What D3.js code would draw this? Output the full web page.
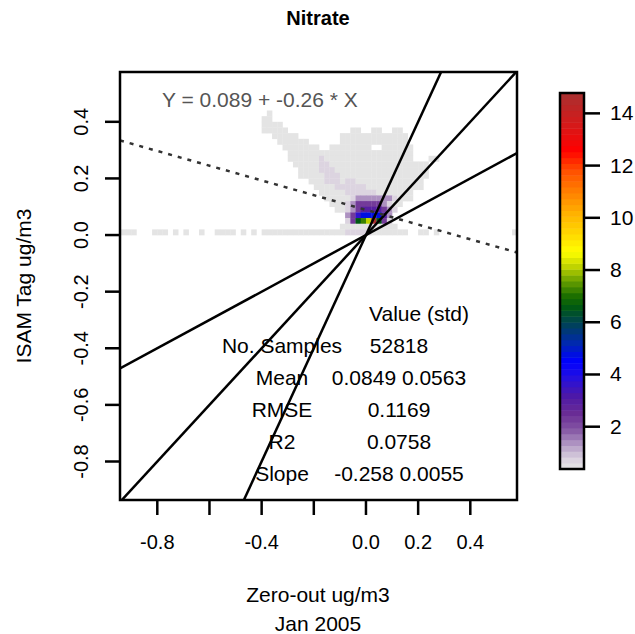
<!DOCTYPE html>
<html>
<head>
<meta charset="utf-8">
<script src="https://cdn.jsdelivr.net/npm/d3@7"></script>
<style>
  body { margin: 0; background: #fff; }
  text { font-family: "Liberation Sans", Arial, sans-serif; }
</style>
</head>
<body>
<script>
// - Density scatter: Nitrate -

// Data

const title = "Nitrate";
const xTicks = [-0.8, -0.6, -0.4, -0.2, 0.0, 0.2, 0.4];
const xTickLabels = ["-0.8", "", "-0.4", "", "0.0", "0.2", "0.4"];
const yTicks = [-0.8, -0.6, -0.4, -0.2, 0.0, 0.2, 0.4];
const yTickLabels = ["-0.8", "-0.6", "-0.4", "-0.2", "0.0", "0.2", "0.4"];
const barTicks = [2, 4, 6, 8, 10, 12, 14];

const refSlopes = [0.5, 1, 2];
const fitIntercept = 0.089, fitSlope = -0.26;

const statLabels = ["No. Samples", "Mean", "RMSE", "R2", "Slope"];
const statValues = ["52818", "0.0849 0.0563", "0.1169", "0.0758", "-0.258 0.0055"];

// density levels per grid cell (bin 0.02, x from -0.40, rows from y = 0.44 down)
const levelKeys = "abcdefghijk";
const levelVals = [0.45, 0.75, 1.3, 2.2, 3.0, 3.6, 4.7, 6.6, 7.3, 8.2, 14.7];
const gridRows = [
  ".a.................................",
  "aa.................................",
  "aaaa...............................",
  "aaaaa............aa..aa..aa........",
  "..aaaaa........aaaaaaaaaaaaa.......",
  "...aaaaaa......aaaaaaaaaaaaa.......",
  "....aaaaaaa..aaaaaaaa..aaaaaa......",
  ".....aaaaaaaaaaaaaaaaaaaaaaaa......",
  ".....aaaaaabaaaaaaaaaaaaaaaaa...aa.",
  "......aaaaabbaaaaaaaaaaaaaaaaaaa...",
  ".......aaaabbbaaaaaaaaaaaaaaaaaa...",
  ".......aaaaabbbaaaaaaaaaaaaaaaaa...",
  ".........aaabbbabbaaaaaaaaaaaaa....",
  "..........aaaabbbbbbaaaaaaaaaaa....",
  "...........aaaaabbbbbbaaaaaaa......",
  "............aaaaabcccccccbaaa......",
  ".............aaabcdddddcbaa........",
  "..............aabcdeeeedcb.........",
  "................cdfggggec..........",
  "................bdhijkhdb..........",
  "...............aaaaaaaaaaa........."
];
// row y in [0, 0.02], bins from x = -0.94
const zeroRow = "aaa...aaa.a.a..a..aaaa.a.a.aaaaaaaaaaaaaaaabbbbbaaaaaaa..aa.a..............a";

// palette stops
const palVals = [0.38, 0.8, 1.3, 1.9, 2.5, 3.2, 3.9, 4.5, 5.2, 5.9, 6.6, 7.0, 7.6, 8.2, 8.7, 9.4, 10.2, 11.0, 11.8, 12.6, 13.5, 14.78];
const palCols = ["#e6e6e6", "#d9d0de", "#b49cc6", "#8456a4", "#6a2c94", "#4c18a8", "#2410e0", "#0000ff", "#0028b0", "#00405c",
                 "#005a10", "#1a6e00", "#6aa000", "#c8d800", "#ffff00", "#ffd800", "#ffb000", "#ff8000", "#ff5000", "#ff0000",
                 "#d81818", "#a83030"];

// Chart size

const w = 635, h = 634;
const box = {left: 120, right: 517, top: 72, bottom: 500};
const bar = {left: 560, right: 584, top: 93, bottom: 469};
const nBands = 64;
const font = 21;

const svg = d3.select("body").append("svg")
  .attr("width", w)
  .attr("height", h);

const x = d3.scaleLinear().domain([-0.943, 0.579]).range([box.left, box.right]);
const y = d3.scaleLinear().domain([-0.936, 0.576]).range([box.bottom, box.top]);

const palette = d3.scaleLinear().domain(palVals).range(palCols).clamp(true);
const vmin = palVals[0], vmax = palVals[palVals.length - 1];
const band = d3.scaleQuantize().domain([vmin, vmax]).range(d3.range(nBands));
const bandColor = i => palette(vmin + (i + 0.5) * (vmax - vmin) / nBands);
const cellColor = v => bandColor(band(v));

svg.append("clipPath").attr("id", "plotclip")
  .append("rect")
  .attr("x", box.left).attr("y", box.top)
  .attr("width", box.right - box.left).attr("height", box.bottom - box.top);

const plot = svg.append("g").attr("clip-path", "url(#plotclip)");

// Heat cells

const bin = 0.02;
const cells = [];
gridRows.forEach((row, r) => {
  row.split("").forEach((ch, c) => {
    const k = levelKeys.indexOf(ch);
    if (k < 0) return;
    cells.push({x0: -0.40 + c * bin, y1: 0.44 - r * bin, v: levelVals[k]});
  });
});
zeroRow.split("").forEach((ch, i) => {
  const k = levelKeys.indexOf(ch);
  if (k < 0) return;
  cells.push({x0: -0.94 + i * bin, y1: bin, v: levelVals[k]});
});

plot.selectAll("rect.cell")
  .data(cells)
  .enter()
  .append("rect")
  .attr("class", "cell")
  .attr("x", d => x(d.x0))
  .attr("y", d => y(d.y1))
  .attr("width", d => x(d.x0 + bin) - x(d.x0) + 0.3)
  .attr("height", d => y(d.y1 - bin) - y(d.y1) + 0.3)
  .attr("fill", d => d.v < 0.5 ? "#e4e4e4" : cellColor(d.v));

// Reference lines

const [xa, xb] = x.domain();
plot.selectAll("line.ref")
  .data(refSlopes)
  .enter()
  .append("line")
  .attr("x1", x(xa)).attr("y1", d => y(xa * d))
  .attr("x2", x(xb)).attr("y2", d => y(xb * d))
  .attr("stroke", "#000")
  .attr("stroke-width", 2.5);

plot.append("line")
  .attr("x1", x(xa)).attr("y1", y(fitIntercept + fitSlope * xa))
  .attr("x2", x(xb)).attr("y2", y(fitIntercept + fitSlope * xb))
  .attr("stroke", "#333")
  .attr("stroke-width", 2.5)
  .attr("stroke-dasharray", "4,6");

// Text in plot

svg.append("text")
  .attr("x", 162).attr("y", 107)
  .attr("font-size", font)
  .attr("fill", "#555")
  .text("Y = " + fitIntercept + " + " + fitSlope + " * X");

svg.append("text")
  .attr("x", 419).attr("y", 321)
  .attr("font-size", font)
  .attr("text-anchor", "middle")
  .text("Value (std)");

statLabels.forEach((s, i) => {
  svg.append("text")
    .attr("x", 282).attr("y", 353 + i * 32)
    .attr("font-size", font)
    .attr("text-anchor", "middle")
    .text(s);
  svg.append("text")
    .attr("x", 399).attr("y", 353 + i * 32)
    .attr("font-size", font)
    .attr("text-anchor", "middle")
    .text(statValues[i]);
});

// Box and axes

svg.append("rect")
  .attr("x", box.left).attr("y", box.top)
  .attr("width", box.right - box.left).attr("height", box.bottom - box.top)
  .attr("fill", "none")
  .attr("stroke", "#000")
  .attr("stroke-width", 2.5);

svg.selectAll("line.xtick")
  .data(xTicks)
  .enter()
  .append("line")
  .attr("x1", d => x(d)).attr("x2", d => x(d))
  .attr("y1", box.bottom).attr("y2", box.bottom + 15)
  .attr("stroke", "#000").attr("stroke-width", 2.5);

svg.selectAll("text.xlab")
  .data(xTicks)
  .enter()
  .append("text")
  .attr("x", d => x(d)).attr("y", 549)
  .attr("font-size", 20)
  .attr("text-anchor", "middle")
  .text((d, i) => xTickLabels[i]);

svg.selectAll("line.ytick")
  .data(yTicks)
  .enter()
  .append("line")
  .attr("y1", d => y(d)).attr("y2", d => y(d))
  .attr("x1", box.left - 15).attr("x2", box.left)
  .attr("stroke", "#000").attr("stroke-width", 2.5);

svg.selectAll("text.ylab")
  .data(yTicks)
  .enter()
  .append("text")
  .attr("transform", d => "translate(88," + y(d) + ") rotate(-90)")
  .attr("font-size", 20)
  .attr("text-anchor", "middle")
  .text((d, i) => yTickLabels[i]);

// Titles

svg.append("text")
  .attr("x", 318).attr("y", 25)
  .attr("font-size", 20)
  .attr("font-weight", "bold")
  .attr("text-anchor", "middle")
  .text(title);

svg.append("text")
  .attr("x", 318).attr("y", 602)
  .attr("font-size", font)
  .attr("text-anchor", "middle")
  .text("Zero-out ug/m3");

svg.append("text")
  .attr("x", 318).attr("y", 631)
  .attr("font-size", font)
  .attr("text-anchor", "middle")
  .text("Jan 2005");

svg.append("text")
  .attr("transform", "translate(31," + (box.top + box.bottom) / 2 + ") rotate(-90)")
  .attr("font-size", font)
  .attr("text-anchor", "middle")
  .text("ISAM Tag ug/m3");

// Colour bar

const yb = d3.scaleLinear().domain([vmin, vmax]).range([bar.bottom, bar.top]);
const bandH = (bar.bottom - bar.top) / nBands;

svg.selectAll("rect.band")
  .data(d3.range(nBands))
  .enter()
  .append("rect")
  .attr("x", bar.left)
  .attr("y", i => bar.bottom - (i + 1) * bandH)
  .attr("width", bar.right - bar.left)
  .attr("height", bandH + 0.5)
  .attr("fill", i => bandColor(i));

svg.append("rect")
  .attr("x", bar.left).attr("y", bar.top)
  .attr("width", bar.right - bar.left).attr("height", bar.bottom - bar.top)
  .attr("fill", "none")
  .attr("stroke", "#000")
  .attr("stroke-width", 2.5);

svg.selectAll("line.btick")
  .data(barTicks)
  .enter()
  .append("line")
  .attr("x1", bar.right).attr("x2", bar.right + 16)
  .attr("y1", d => yb(d)).attr("y2", d => yb(d))
  .attr("stroke", "#000").attr("stroke-width", 2.5);

svg.selectAll("text.blab")
  .data(barTicks)
  .enter()
  .append("text")
  .attr("x", 610).attr("y", d => yb(d) + 7)
  .attr("font-size", font)
  .text(d => d);
</script>
</body>
</html>
